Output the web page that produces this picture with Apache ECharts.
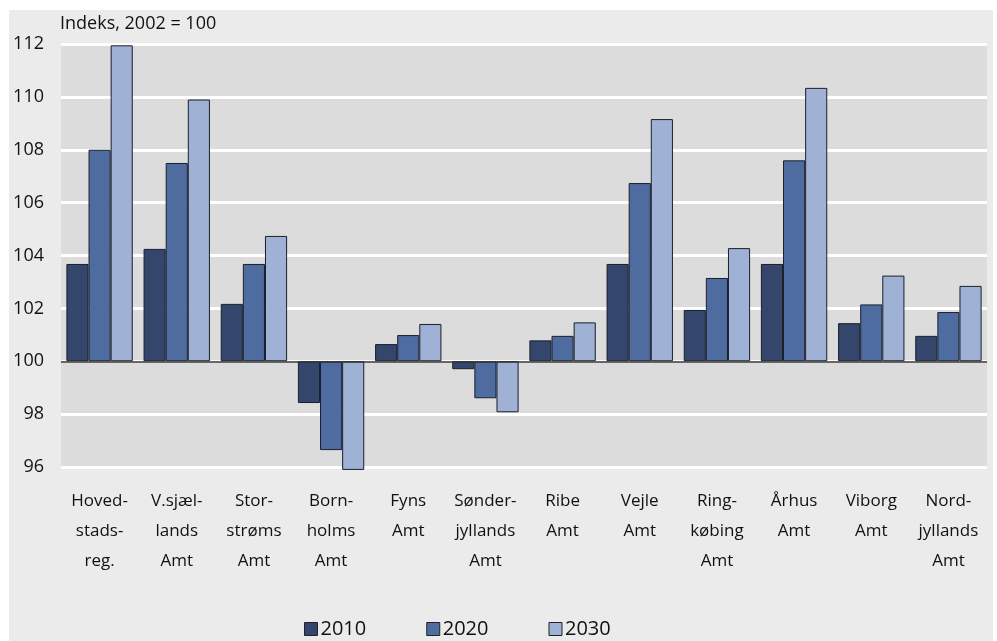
<!DOCTYPE html>
<html lang="da">
<head>
    <meta charset="UTF-8">
    <title>Indeks 2002 = 100</title>
    <script src="https://cdn.jsdelivr.net/npm/echarts@6/dist/echarts.min.js"></script>
    <style>
        html, body { margin: 0; padding: 0; background: #fff; }
        #container { width: 997px; height: 641px; }
    </style>
</head>
<body>
<div id="container"></div>
<script type="text/javascript">
    // data (index, 2002 = 100)
    var categories = ['Hoved-\nstads-\nreg.', 'V.sjæl-\nlands\nAmt', 'Stor-\nstrøms\nAmt', 'Born-\nholms\nAmt',
        'Fyns\nAmt', 'Sønder-\njyllands\nAmt', 'Ribe\nAmt', 'Vejle\nAmt', 'Ring-\nkøbing\nAmt',
        'Århus\nAmt', 'Viborg\nAmt', 'Nord-\njyllands\nAmt'];
    var years = ['2010', '2020', '2030'];
    var v2010 = [103.68, 104.25, 102.17, 98.42, 100.65, 99.70, 100.79, 103.68, 101.94, 103.68, 101.44, 100.96];
    var v2020 = [108.00, 107.50, 103.68, 96.64, 100.99, 98.60, 100.96, 106.74, 103.15, 107.60, 102.15, 101.86];
    var v2030 = [111.95, 109.90, 104.74, 95.89, 101.41, 98.07, 101.47, 109.16, 104.28, 110.34, 103.24, 102.85];
    var colors = ['#34466b', '#4e6ca0', '#9fb1d4'];
    var base = 100;

    var dom = document.getElementById('container');
    var myChart = echarts.init(dom, null, {renderer: 'canvas'});
    var font = '"Open Sans", "Noto Sans", sans-serif';

    // bars hang from the 100 line, so plot the distance to it
    function fromBase(arr) {
        return arr.map(function (v) { return +(v - base).toFixed(2); });
    }

    var allVals = [v2010, v2020, v2030];
    var series = years.map(function (y, i) {
        var s = {
            name: y,
            type: 'bar',
            barGap: '0%',
            barCategoryGap: '14%',
            clip: false,
            itemStyle: {
                color: colors[i],
                borderColor: '#1a1f2b',
                borderWidth: 1
            },
            emphasis: { disabled: true },
            data: fromBase(allVals[i])
        };
        if (i === 0) {
            s.markLine = {
                silent: true,
                symbol: 'none',
                label: { show: false },
                lineStyle: { color: '#333', width: 1.5, type: 'solid' },
                data: [{ yAxis: 0 }]
            };
        }
        return s;
    });

    var option = {
        backgroundColor: '#ffffff',
        animation: false,
        graphic: [{
            type: 'rect',
            z: -10,
            silent: true,
            shape: { x: 9, y: 10, width: 984, height: 640 },
            style: { fill: '#ebebeb' }
        }, {
            type: 'text',
            left: 60,
            top: 15,
            style: {
                text: 'Indeks, 2002 = 100',
                font: '18px ' + font,
                fill: '#111'
            }
        }],
        legend: {
            top: 614,
            left: 299,
            itemWidth: 13,
            itemHeight: 13,
            itemGap: 60,
            icon: 'rect',
            textStyle: { fontFamily: font, fontSize: 20, color: '#111', padding: [0, 0, 0, -2] },
            itemStyle: { borderColor: '#222', borderWidth: 1 },
            data: years
        },
        grid: {
            left: 61,
            right: 10,
            top: 44,
            bottom: 174,
            show: true,
            backgroundColor: '#dcdcdc',
            borderWidth: 0
        },
        xAxis: {
            type: 'category',
            data: categories,
            axisLine: { show: false, onZero: false },
            axisTick: { show: false },
            axisLabel: {
                interval: 0,
                margin: 19,
                fontFamily: font,
                fontSize: 17,
                lineHeight: 30,
                color: '#111',
                align: 'center'
            }
        },
        yAxis: {
            type: 'value',
            min: -4,
            max: 12,
            interval: 2,
            axisLine: { show: false },
            axisTick: { show: false },
            splitLine: { lineStyle: { color: '#ffffff', width: 3 } },
            axisLabel: {
                margin: 17,
                fontFamily: font,
                fontSize: 18,
                color: '#111',
                formatter: function (v) { return v + base; }
            }
        },
        series: series
    };

    if (option && typeof option === 'object') {
        myChart.setOption(option, true);
    }
</script>
</body>
</html>
